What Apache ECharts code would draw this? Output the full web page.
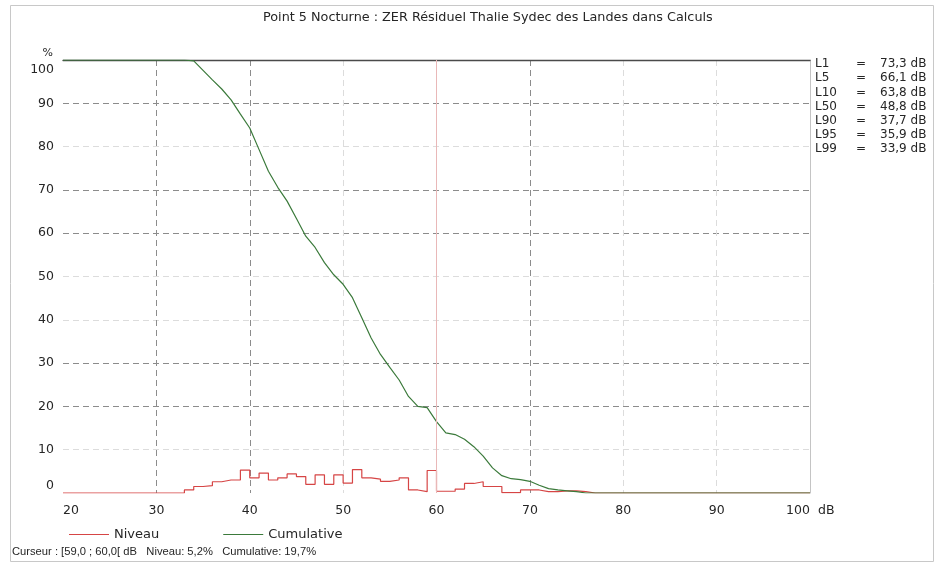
<!DOCTYPE html>
<html>
<head>
<meta charset="utf-8">
<script src="https://cdn.jsdelivr.net/npm/echarts@6/dist/echarts.min.js"></script>
<style>
  html, body { margin: 0; padding: 0; background: #fff; }
  #chart { width: 936px; height: 564px; }
</style>
</head>
<body>
<div id="chart"></div>
<script>
// Sound level classes (dB), 1 dB wide
const levels = [
  20, 21, 22, 23, 24, 25, 26, 27, 28, 29,
  30, 31, 32, 33, 34, 35, 36, 37, 38, 39,
  40, 41, 42, 43, 44, 45, 46, 47, 48, 49,
  50, 51, 52, 53, 54, 55, 56, 57, 58, 59,
  60, 61, 62, 63, 64, 65, 66, 67, 68, 69,
  70, 71, 72, 73, 74, 75, 76, 77, 78, 79,
  80, 81, 82, 83, 84, 85, 86, 87, 88, 89,
  90, 91, 92, 93, 94, 95, 96, 97, 98, 99, 100
];

// Share of time spent in each 1 dB class (%)
const niveau = [
  0, 0, 0, 0, 0, 0, 0, 0, 0, 0,
  0, 0, 0, 0.7, 1.5, 1.7, 2.6, 3.0, 3.0, 5.3,
  3.5, 4.6, 3.0, 3.5, 4.4, 3.8, 2.0, 4.2, 2.0, 4.2,
  2.3, 5.4, 3.5, 3.2, 2.7, 3.0, 3.5, 0.7, 0.3, 5.2,
  0.4, 0.4, 0.9, 2.2, 2.6, 1.5, 1.5, 0.1, 0.1, 0.7,
  0.7, 0.3, 0.3, 0.5, 0.5, 0.3, 0, 0, 0, 0,
  0, 0, 0, 0, 0, 0, 0, 0, 0, 0,
  0, 0, 0, 0, 0, 0, 0, 0, 0, 0, 0
];

// Share of time at or above each level (%)
const cumulative = [
  100, 100, 100, 100, 100, 100, 100, 100, 100, 100,
  100, 100, 100, 100, 99.8, 97.6, 95.4, 93.3, 90.8, 87.5,
  84.3, 79.3, 74.3, 70.6, 67.4, 63.4, 59.3, 56.7, 53.2, 50.4,
  48.2, 45.1, 40.5, 35.8, 32.0, 29.0, 26.1, 22.3, 20.0, 19.7,
  16.5, 13.9, 13.5, 12.4, 10.7, 8.5, 5.8, 4.0, 3.3, 3.1,
  2.7, 1.8, 1.0, 0.7, 0.5, 0.3, 0, 0, 0, 0,
  0, 0, 0, 0, 0, 0, 0, 0, 0, 0,
  0, 0, 0, 0, 0, 0, 0, 0, 0, 0, 0
];

// Statistical indices
const indexNames = ['L1', 'L5', 'L10', 'L50', 'L90', 'L95', 'L99'];
const indexValues = [73.3, 66.1, 63.8, 48.8, 37.7, 35.9, 33.9];

// Axis ticks
const xTicks = [20, 30, 40, 50, 60, 70, 80, 90, 100];
const yTicks = [0, 10, 20, 30, 40, 50, 60, 70, 80, 90, 100];

// Cursor class
const cursorLow = 59;
const cursorHigh = 60;

const titleText = 'Point 5 Nocturne : ZER Résiduel Thalie Sydec des Landes dans Calculs';

const FONT = 'DejaVu Sans';
const TXT = '#262626';
const NIV_COLOR = '#d64545';
const CUM_COLOR = '#3b7a3b';
const DARK_GRID = '#8c8c8c';
const FAINT_GRID = '#dcdcdc';
const NONE = 'rgba(0,0,0,0)';

const fr = v => v.toFixed(1).replace('.', ',');

const ci = levels.indexOf(cursorLow);
const cursorText = 'Curseur : [' + fr(cursorLow) + ' ; ' + fr(cursorHigh) + '[ dB   Niveau: ' +
  fr(niveau[ci]) + '%   Cumulative: ' + fr(cumulative[ci]) + '%';

const chart = echarts.init(document.getElementById('chart'), null, { renderer: 'canvas' });

const graphics = [
  {
    type: 'rect', silent: true, z: -10,
    shape: { x: 10.5, y: 5.5, width: 923, height: 556 },
    style: { fill: null, stroke: '#c8c8c8', lineWidth: 1 }
  },
  {
    type: 'text', left: 12, top: 546,
    style: { text: cursorText, font: '11.2px "Liberation Sans"', fill: TXT }
  }
];
indexNames.forEach((n, i) => {
  const y = 58 + i * 14.2;
  graphics.push({ type: 'text', left: 815, top: y, style: { text: n, font: '12px "' + FONT + '"', fill: TXT } });
  graphics.push({ type: 'text', left: 856, top: y, style: { text: '=', font: '12px "' + FONT + '"', fill: TXT } });
  graphics.push({ type: 'text', left: 880, top: y, style: { text: fr(indexValues[i]) + ' dB', font: '12px "' + FONT + '"', fill: TXT } });
});

chart.setOption({
  animation: false,
  backgroundColor: '#fff',
  title: {
    text: titleText,
    left: 258,
    top: 6,
    textStyle: { fontFamily: FONT, fontSize: 12.8, fontWeight: 'normal', color: TXT }
  },
  legend: {
    left: 64,
    top: 523,
    icon: 'rect',
    itemWidth: 40,
    itemHeight: 1,
    itemGap: 64,
    textStyle: { fontFamily: FONT, fontSize: 13, color: TXT },
    data: ['Niveau', 'Cumulative']
  },
  grid: { left: 63, right: 126, top: 60, bottom: 71, containLabel: false, outerBoundsMode: 'none' },
  xAxis: [
    {
      type: 'value',
      min: xTicks[0],
      max: xTicks[xTicks.length - 1],
      interval: 10,
      name: 'dB',
      nameLocation: 'end',
      nameGap: 8,
      nameTextStyle: { fontFamily: FONT, fontSize: 12.5, color: TXT, verticalAlign: 'top', padding: [11, 0, 0, 0] },
      axisLine: { show: false, onZero: false },
      axisTick: { show: false },
      axisLabel: {
        margin: 11,
        fontFamily: FONT, fontSize: 12.5, color: TXT,
        formatter: v => v === xTicks[0] ? '{lo|' + v + '}' : (v === xTicks[xTicks.length - 1] ? '{hi|' + v + '}' : String(v)),
        rich: {
          lo: { fontFamily: FONT, fontSize: 12.5, color: TXT, padding: [0, 0, 0, 16] },
          hi: { fontFamily: FONT, fontSize: 12.5, color: TXT, padding: [0, 24, 0, 0] }
        }
      },
      splitLine: {
        show: true,
        lineStyle: {
          type: [6, 4],
          width: 1,
          color: [NONE, DARK_GRID, DARK_GRID, FAINT_GRID, NONE, DARK_GRID, FAINT_GRID, FAINT_GRID, NONE]
        }
      }
    },
    {
      type: 'value',
      position: 'top',
      min: xTicks[0],
      max: xTicks[xTicks.length - 1],
      interval: 10,
      axisLine: { show: true, onZero: false, lineStyle: { color: '#4a4a4a', width: 1.3 } },
      axisTick: { show: false },
      axisLabel: { show: false },
      splitLine: { show: false }
    }
  ],
  yAxis: [
    {
      type: 'value',
      min: yTicks[0],
      max: yTicks[yTicks.length - 1],
      interval: 10,
      name: '%',
      nameLocation: 'end',
      nameGap: 7,
      nameTextStyle: { fontFamily: FONT, fontSize: 11, color: TXT, align: 'right', verticalAlign: 'middle', padding: [0, 10, 0, 0] },
      axisLine: { show: false, onZero: false },
      axisTick: { show: false },
      axisLabel: {
        margin: 9,
        fontFamily: FONT, fontSize: 12.5, color: TXT,
        formatter: v => v === yTicks[0] ? '{lo|' + v + '}' : (v === yTicks[yTicks.length - 1] ? '{hi|' + v + '}' : String(v)),
        rich: {
          lo: { fontFamily: FONT, fontSize: 12.5, color: TXT, padding: [0, 0, 14, 0] },
          hi: { fontFamily: FONT, fontSize: 12.5, color: TXT, padding: [20, 0, 0, 0] }
        }
      },
      splitLine: {
        show: true,
        lineStyle: {
          type: [6, 4],
          width: 1,
          color: [NONE, FAINT_GRID, DARK_GRID, DARK_GRID, FAINT_GRID, FAINT_GRID, DARK_GRID, DARK_GRID, FAINT_GRID, DARK_GRID, NONE]
        }
      }
    },
    {
      type: 'value',
      position: 'right',
      min: yTicks[0],
      max: yTicks[yTicks.length - 1],
      interval: 10,
      axisLine: { show: true, onZero: false, lineStyle: { color: '#c4c4c4', width: 1 } },
      axisTick: { show: false },
      axisLabel: { show: false },
      splitLine: { show: false }
    }
  ],
  graphic: graphics,
  series: [
    {
      name: 'Niveau',
      type: 'line',
      xAxisIndex: 0,
      yAxisIndex: 0,
      step: 'end',
      showSymbol: false,
      symbol: 'none',
      color: NIV_COLOR,
      lineStyle: { color: NIV_COLOR, width: 1.2 },
      data: levels.map((x, i) => [x, niveau[i]]),
      markLine: {
        silent: true,
        symbol: ['none', 'none'],
        label: { show: false },
        lineStyle: { color: '#e9b8b8', type: 'solid', width: 1 },
        data: [{ xAxis: cursorHigh }]
      },
      z: 3
    },
    {
      name: 'Cumulative',
      type: 'line',
      xAxisIndex: 0,
      yAxisIndex: 0,
      showSymbol: false,
      symbol: 'none',
      color: CUM_COLOR,
      lineStyle: { color: CUM_COLOR, width: 1.2 },
      data: levels.map((x, i) => [x, cumulative[i]]),
      z: 4
    }
  ]
});
</script>
</body>
</html>
